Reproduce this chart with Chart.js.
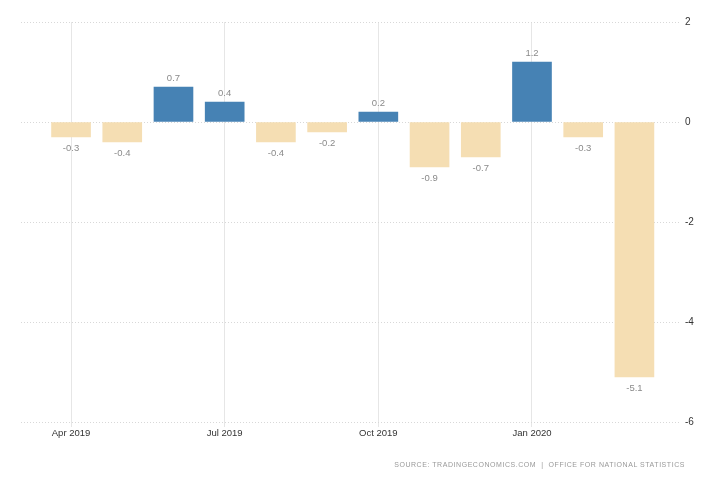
<!DOCTYPE html>
<html>
<head>
<meta charset="utf-8">
<script src="https://cdn.jsdelivr.net/npm/chart.js@4/dist/chart.umd.min.js"></script>
<style>
  html, body { margin: 0; padding: 0; background: #fff; }
  #wrap { position: relative; width: 728px; height: 485px; }
  #source { position: absolute; right: 43px; top: 461px; font-family: "Liberation Sans", Arial, sans-serif; font-size: 7px; letter-spacing: 0.55px; color: #999; white-space: nowrap; }
</style>
</head>
<body>
<div id="wrap">
  <canvas id="c" width="728" height="485"></canvas>
  <div id="source">SOURCE: TRADINGECONOMICS.COM &nbsp;|&nbsp; OFFICE FOR NATIONAL STATISTICS</div>
</div>
<script>
const categories = ['Apr 2019','May 2019','Jun 2019','Jul 2019','Aug 2019','Sep 2019','Oct 2019','Nov 2019','Dec 2019','Jan 2020','Feb 2020','Mar 2020'];
const values = [-0.3, -0.4, 0.7, 0.4, -0.4, -0.2, 0.2, -0.9, -0.7, 1.2, -0.3, -5.1];
const xTickLabels = ['Apr 2019','Jul 2019','Oct 2019','Jan 2020'];
const yTicks = [2, 0, -2, -4, -6];

const POS = '#4682B4', NEG = '#F5DEB3';
const FONT = '"Liberation Sans", Arial, sans-serif';

const points = values.map((v, i) => ({ x: i, y: v }));
const xTickIdx = xTickLabels.map(l => categories.indexOf(l));

const labelPlugin = {
  id: 'barLabels',
  afterDatasetsDraw(chart) {
    const ctx = chart.ctx;
    const meta = chart.getDatasetMeta(0);
    ctx.save();
    ctx.font = '9.5px ' + FONT;
    ctx.fillStyle = '#8a8a8a';
    ctx.textAlign = 'center';
    ctx.textBaseline = 'middle';
    meta.data.forEach((el, i) => {
      const v = values[i];
      const y = v >= 0 ? el.y - 9 : el.y + 11;
      ctx.fillText(v.toFixed(1), el.x, y);
    });
    ctx.restore();
  }
};

new Chart(document.getElementById('c'), {
  type: 'bar',
  data: {
    datasets: [{
      data: points,
      backgroundColor: values.map(v => v >= 0 ? POS : NEG),
      borderWidth: 0,
      barThickness: 39
    }]
  },
  options: {
    responsive: false,
    animation: false,
    layout: { padding: { left: 21, top: 22, right: 0, bottom: 0 } },
    plugins: { legend: { display: false }, tooltip: { enabled: false } },
    scales: {
      x: {
        type: 'linear',
        offset: false,
        min: -0.977,
        max: 11.89,
        grid: { offset: false, color: '#e6e6e6', lineWidth: 1, tickLength: 5, drawOnChartArea: true },
        border: { display: false },
        afterBuildTicks(scale) { scale.ticks = xTickIdx.map(v => ({ value: v })); },
        afterFit(scale) { scale.height = 63; },
        ticks: {
          autoSkip: false,
          maxRotation: 0,
          padding: 1,
          color: '#333',
          font: { family: FONT, size: 9.5 },
          callback: (v) => categories[v] ?? ''
        }
      },
      y: {
        position: 'right',
        min: -6,
        max: 2,
        afterBuildTicks(scale) { scale.ticks = yTicks.map(v => ({ value: v })); },
        afterFit(scale) { scale.width = 48; },
        grid: { color: '#d8d8d8', lineWidth: 1, drawTicks: false },
        border: { display: false, dash: [1, 2] },
        ticks: {
          padding: 5,
          color: '#333',
          font: { family: FONT, size: 10 }
        }
      }
    }
  },
  plugins: [labelPlugin]
});
</script>
</body>
</html>
